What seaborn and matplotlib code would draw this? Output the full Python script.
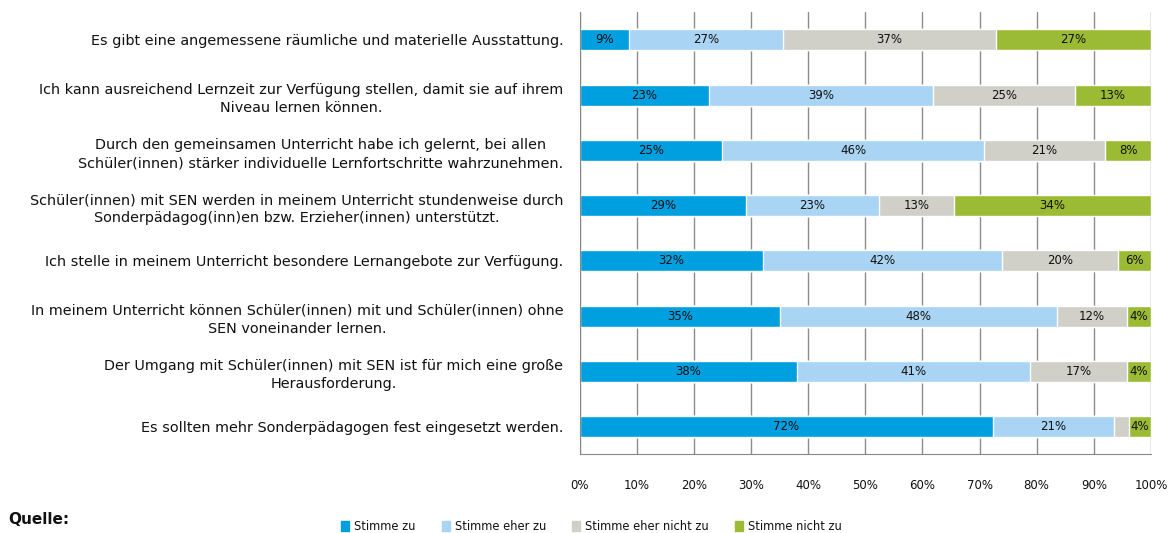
import numpy as np
import pandas as pd
import matplotlib
matplotlib.use('Agg')
import matplotlib.pyplot as plt
import seaborn as sns
from matplotlib.patches import Patch

categories = [
    'Es gibt eine angemessene räumliche und materielle Ausstattung.',
    'Ich kann ausreichend Lernzeit zur Verfügung stellen, damit sie auf ihrem\nNiveau lernen können.',
    'Durch den gemeinsamen Unterricht habe ich gelernt, bei allen\nSchüler(innen) stärker individuelle Lernfortschritte wahrzunehmen.',
    'Schüler(innen) mit SEN werden in meinem Unterricht stundenweise durch\nSonderpädagog(inn)en bzw. Erzieher(innen) unterstützt.',
    'Ich stelle in meinem Unterricht besondere Lernangebote zur Verfügung.',
    'In meinem Unterricht können Schüler(innen) mit und Schüler(innen) ohne\nSEN voneinander lernen.',
    'Der Umgang mit Schüler(innen) mit SEN ist für mich eine große\nHerausforderung.',
    'Es sollten mehr Sonderpädagogen fest eingesetzt werden.',
]
series = ['Stimme zu', 'Stimme eher zu', 'Stimme eher nicht zu', 'Stimme nicht zu']
stimme_zu = [8.6, 22.6, 24.9, 29.1, 32.0, 35.1, 38.0, 72.3]
eher_zu = [27.0, 39.3, 45.9, 23.3, 42.0, 48.4, 40.8, 21.2]
eher_nicht = [37.3, 24.8, 21.2, 13.2, 20.3, 12.4, 17.1, 2.6]
nicht_zu = [27.1, 13.3, 8.0, 34.4, 5.7, 4.1, 4.1, 3.9]
colors = ['#009fe0', '#a9d4f4', '#d0d0c9', '#9bbb34']

df = pd.DataFrame({'cat': categories, series[0]: stimme_zu, series[1]: eher_zu,
                   series[2]: eher_nicht, series[3]: nicht_zu})
cum = df[series].cumsum(axis=1)

sns.set_style('white')
fig = plt.figure(figsize=(11.69, 5.33), dpi=100)
ax = fig.add_axes([0.496, 0.148, 0.4885, 0.829])

# stacked bars: draw cumulative totals from the back to the front
for s, c in zip(series[::-1], colors[::-1]):
    sns.barplot(x=cum[s], y=df['cat'], orient='h', color=c, width=0.38,
                saturation=1, ax=ax, zorder=2)

for i in range(len(df)):
    for s in series:
        v = df.loc[i, s]
        if v < 3:
            continue
        ax.text(cum.loc[i, s] - v / 2, i, f'{round(v):.0f}%', ha='center', va='center',
                fontsize=8.5, color='#111111', zorder=3)

ax.set_xlim(0, 100)
ax.set_ylim(7.5, -0.5)
ax.set_xticks(np.arange(0, 101, 10))
ax.set_xticklabels([f'{t}%' for t in range(0, 101, 10)], fontsize=8.5, color='#111111')
ax.set_yticks(range(len(categories)))
ax.set_yticklabels(categories, fontsize=10.4, multialignment='center', linespacing=1.4,
                   color='#111111')
ax.set_yticks(np.arange(-0.5, 8, 1), minor=True)
ax.tick_params(axis='y', which='major', length=0, pad=12)
ax.tick_params(axis='y', which='minor', length=5, color='#888888', width=1)
ax.tick_params(axis='x', length=5, color='#888888', width=1, pad=13)
ax.xaxis.grid(True, color='#8c8c8c', lw=1, zorder=0)
ax.set_axisbelow(True)
for side in ['top', 'right']:
    ax.spines[side].set_visible(False)
for side in ['left', 'bottom']:
    ax.spines[side].set_color('#888888')
ax.set_xlabel('')
ax.set_ylabel('')

handles = [Patch(color=c, label=s) for s, c in zip(series, colors)]
fig.legend(handles=handles, loc='center', bbox_to_anchor=(0.506, 0.012), ncol=4,
           frameon=False, fontsize=8.3, handlelength=0.7, handleheight=0.9,
           handletextpad=0.4, columnspacing=2.3, labelcolor='#111111')
fig.text(0.007, 0.025, 'Quelle:', fontsize=11, fontweight='bold', ha='left', va='center',
         color='#111111')

fig.savefig('out.png', dpi=100)
